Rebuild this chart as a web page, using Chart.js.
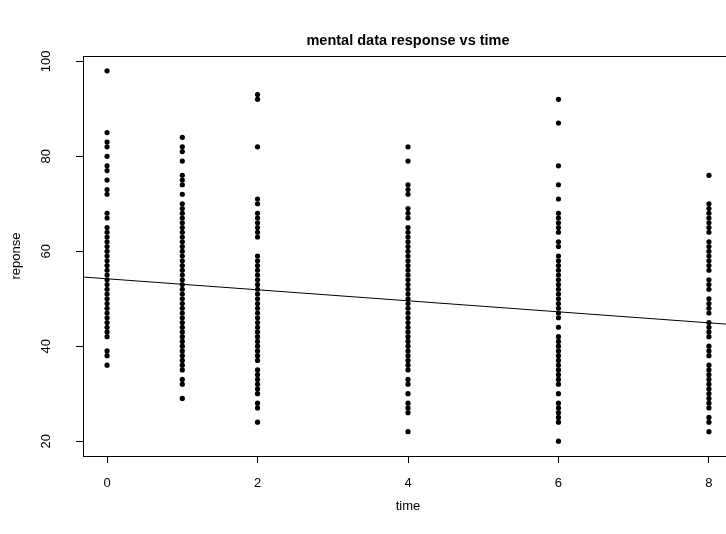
<!DOCTYPE html>
<html>
<head>
<meta charset="utf-8">
<script src="https://cdn.jsdelivr.net/npm/chart.js@4/dist/chart.umd.min.js"></script>
<style>
  html, body { margin: 0; padding: 0; overflow: hidden; background: #fff; }
  canvas { display: block; }
</style>
</head>
<body>
<canvas id="chart" width="760" height="534"></canvas>
<script>
// responses, one array per time point
const times = [0, 1, 2, 4, 6, 8];
const resp0 = [98, 85, 83, 82, 80, 78, 77, 75, 73, 72, 68, 67,
  65, 64, 63, 62, 61, 60, 59, 58, 57, 56, 55, 54, 53, 52, 51, 50, 49, 48, 47, 46, 45, 44, 43, 42,
  39, 38, 36];
const resp1 = [84, 82, 81, 79, 76, 75, 74, 72,
  70, 69, 68, 67, 66, 65, 64, 63, 62, 61, 60, 59, 58, 57, 56, 55, 54, 53, 52, 51, 50, 49, 48, 47,
  46, 45, 44, 43, 42, 41, 40, 39, 38, 37, 36, 35, 33, 32, 29];
const resp2 = [93, 92, 82, 71, 70, 68, 67, 66, 65, 64, 63,
  59, 58, 57, 56, 55, 54, 53, 52, 51, 50, 49, 48, 47, 46, 45, 44, 43, 42, 41, 40, 39, 38, 37,
  35, 34, 33, 32, 31, 30, 28, 27, 24];
const resp4 = [82, 79, 74, 73, 72, 69, 68, 67,
  65, 64, 63, 62, 61, 60, 59, 58, 57, 56, 55, 54, 53, 52, 51, 50, 49, 48, 47, 46, 45, 44, 43, 42,
  41, 40, 39, 38, 37, 36, 35, 33, 32, 30, 28, 27, 26, 22];
const resp6 = [92, 87, 78, 74, 71, 68, 67, 66, 65, 64, 62, 61,
  59, 58, 57, 56, 55, 54, 53, 52, 51, 50, 49, 48, 47, 46, 44,
  42, 41, 40, 39, 38, 37, 36, 35, 34, 33, 32, 30, 28, 27, 26, 25, 24, 20];
const resp8 = [76, 70, 69, 68, 67, 66, 65, 64, 62, 61, 60, 59, 58, 57, 56, 54, 53, 52, 50, 49,
  48, 47, 45, 44, 43, 42, 40, 39, 38, 36, 35, 34, 33, 32, 31, 30, 29, 28, 27, 25, 24, 22];
const responses = [resp0, resp1, resp2, resp4, resp6, resp8];

// fitted line (lm response ~ time)
const fitIntercept = 54.2;
const fitSlope = -1.16;

const xTicks = [0, 2, 4, 6, 8];
const yTicks = [20, 40, 60, 80, 100];
const xRange = [-0.32, 8.32];
const yRange = [16.88, 101.12];

const points = responses.flatMap((arr, i) => arr.map(v => ({ x: times[i], y: v })));
const fitLine = xRange.map(x => ({ x: x, y: fitIntercept + fitSlope * x }));

const FONT = '"Liberation Sans", Arial, sans-serif';
Chart.defaults.font.family = FONT;
Chart.defaults.color = '#000';

// R-like box round the plot + main title
const boxPlugin = {
  id: 'rbox',
  afterDraw(chart) {
    const { ctx, chartArea: a } = chart;
    ctx.save();
    ctx.strokeStyle = '#000';
    ctx.lineWidth = 1;
    ctx.strokeRect(a.left + 0.5, a.top + 0.5, a.right - a.left, a.bottom - a.top);
    ctx.font = 'bold 14.5px ' + FONT;
    ctx.fillStyle = '#000';
    ctx.textAlign = 'center';
    ctx.textBaseline = 'middle';
    ctx.fillText('mental data response vs time', (a.left + a.right) / 2, 41);
    ctx.restore();
  }
};

new Chart(document.getElementById('chart'), {
  type: 'scatter',
  data: {
    datasets: [
      {
        data: fitLine,
        showLine: true,
        borderColor: '#000',
        borderWidth: 1,
        pointRadius: 0,
        order: 0
      },
      {
        data: points,
        backgroundColor: '#000',
        borderColor: '#000',
        borderWidth: 0,
        pointRadius: 2.6,
        order: 1
      }
    ]
  },
  options: {
    responsive: false,
    animation: false,
    layout: { padding: { left: 0, top: 56, right: 27, bottom: 0 } },
    plugins: { legend: { display: false }, tooltip: { enabled: false } },
    scales: {
      x: {
        type: 'linear',
        min: xRange[0],
        max: xRange[1],
        afterBuildTicks: s => { s.ticks = xTicks.map(v => ({ value: v })); },
        afterFit: s => { s.height = 78; },
        grid: { drawOnChartArea: false, drawTicks: true, tickLength: 7, color: '#000' },
        border: { display: false },
        ticks: { padding: 13, font: { size: 13 } },
        title: { display: true, text: 'time', font: { size: 13 }, padding: { top: 0, bottom: 20 } }
      },
      y: {
        type: 'linear',
        min: yRange[0],
        max: yRange[1],
        afterBuildTicks: s => { s.ticks = yTicks.map(v => ({ value: v })); },
        afterFit: s => { s.width = 83; },
        grid: { drawOnChartArea: false, drawTicks: true, tickLength: 7, color: '#000' },
        border: { display: false },
        ticks: { padding: 19, font: { size: 13 }, minRotation: 90, maxRotation: 90, crossAlign: 'center' },
        title: { display: true, text: 'reponse', font: { size: 13 }, padding: { top: 9, bottom: 0 } }
      }
    }
  },
  plugins: [boxPlugin]
});
</script>
</body>
</html>
